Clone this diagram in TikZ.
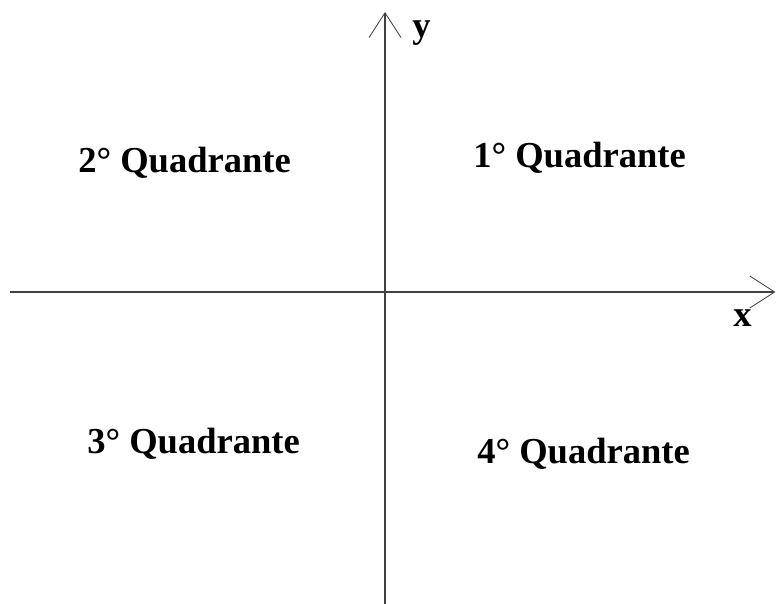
\documentclass[tikz,border=0pt]{standalone}
\usepackage{fontspec}
\setmainfont{Liberation Serif}
\usepackage{tikz}
\usetikzlibrary{arrows.meta}

\tikzset{
  axis/.style={black!75,line width=1.1pt,-{Straight Barb[length=0.62cm,width=0.8cm,line width=0.6pt]}},
  quadlabel/.style={anchor=base west,inner sep=0pt,font=\fontsize{26}{30}\selectfont\bfseries}
}

\begin{document}
\begin{tikzpicture}[x=1cm,y=1cm]
\useasboundingbox (-9.625,-7.8) rectangle (9.775,7.3);

\coordinate (xmin) at (-9.375,0);
\coordinate (xmax) at (9.76,0);
\coordinate (ymin) at (0,-7.8);
\coordinate (ymax) at (0,7.0);
\draw[axis] (xmin) -- (xmax);
\draw[axis] (ymin) -- (ymax);

\node[quadlabel] (ylab) at (0.675,6.35) {y};
\node[quadlabel] (xlab) at (8.7,-0.875) {x};

\node[quadlabel] (q1) at (2.2,3.1) {1° Quadrante};
\node[quadlabel] (q2) at (-7.675,2.975) {2° Quadrante};
\node[quadlabel] (q3) at (-7.45,-4.025) {3° Quadrante};
\node[quadlabel] (q4) at (2.3,-4.275) {4° Quadrante};
\end{tikzpicture}
\end{document}
